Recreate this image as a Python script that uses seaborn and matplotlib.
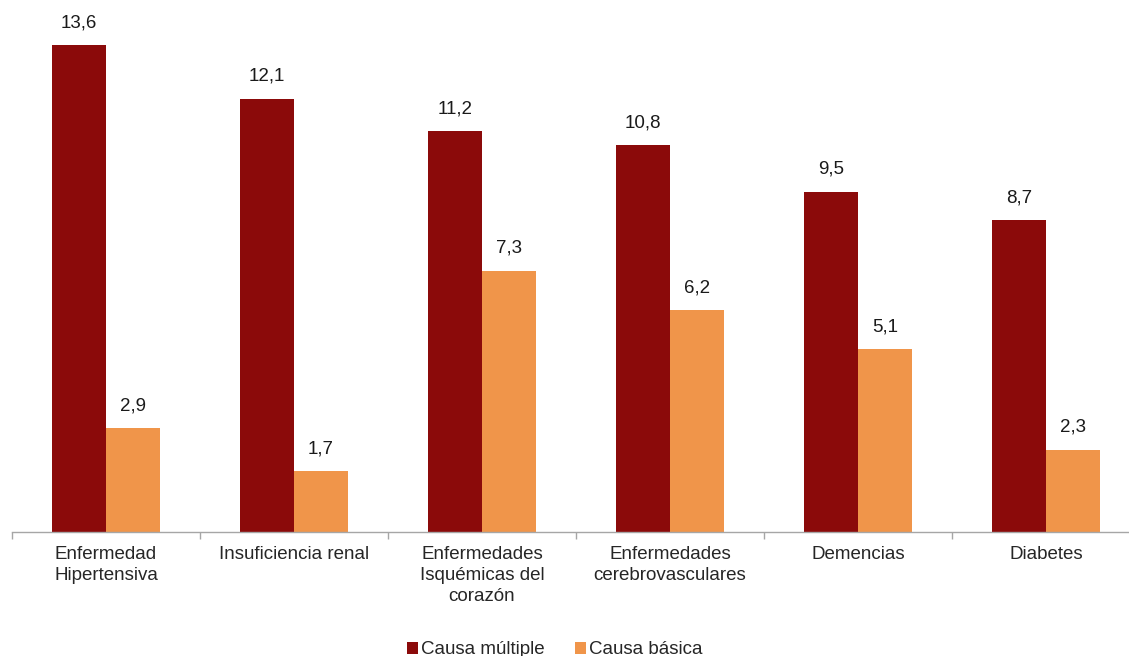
import pandas as pd
import matplotlib
matplotlib.use('Agg')
import matplotlib.pyplot as plt
import seaborn as sns

categorias = ['Enfermedad\nHipertensiva', 'Insuficiencia renal',
              'Enfermedades\nIsquémicas del\ncorazón', 'Enfermedades\ncerebrovasculares',
              'Demencias', 'Diabetes']
causa_multiple = [13.6, 12.1, 11.2, 10.8, 9.5, 8.7]
causa_basica = [2.9, 1.7, 7.3, 6.2, 5.1, 2.3]
series = ['Causa múltiple', 'Causa básica']
colores = ['#8B0A0A', '#F0954A']

df = pd.DataFrame({
    'categoria': categorias * 2,
    'serie': [series[0]] * len(categorias) + [series[1]] * len(categorias),
    'valor': causa_multiple + causa_basica,
})

sns.set_style('white')
plt.rcParams['font.family'] = ['Liberation Sans', 'DejaVu Sans']
fs = 13.5

fig = plt.figure(figsize=(11.29, 6.56), dpi=100)
ax = fig.add_axes([12 / 1129, 124 / 656, 1128 / 1129, 530 / 656])

sns.barplot(data=df, x='categoria', y='valor', hue='serie', palette=colores,
            width=0.574, gap=0, saturation=1, linewidth=0, ax=ax, legend=True)

# etiquetas de valores con coma decimal
for cont in ax.containers:
    etiquetas = [f'{b.get_height():.1f}'.replace('.', ',') for b in cont]
    ax.bar_label(cont, labels=etiquetas, padding=10, fontsize=fs, color='#1a1a1a')

ax.set_ylim(0, 14.8)
ax.set_xlim(-0.5, len(categorias) - 0.5)
ax.set_xlabel('')
ax.set_ylabel('')
ax.set_yticks([])

for s in ['top', 'right', 'left']:
    ax.spines[s].set_visible(False)
ax.spines['bottom'].set_color('#A6A6A6')
ax.spines['bottom'].set_linewidth(1)

ax.tick_params(axis='x', which='major', length=0, pad=10, labelsize=fs, labelcolor='#262626')
ax.set_xticks([i - 0.5 for i in range(len(categorias) + 1)], minor=True)
ax.tick_params(axis='x', which='minor', length=5, color='#A6A6A6', width=1, direction='out', bottom=True)
for lbl in ax.get_xticklabels():
    lbl.set_linespacing(1.3)

ax.legend(loc='center', bbox_to_anchor=(0.481, -0.222), bbox_transform=ax.transAxes,
          ncol=2, frameon=False, fontsize=fs, handlelength=0.6, handleheight=0.6,
          handletextpad=0.15, columnspacing=1.6, labelcolor='#262626')

fig.savefig('out.png', dpi=100)
